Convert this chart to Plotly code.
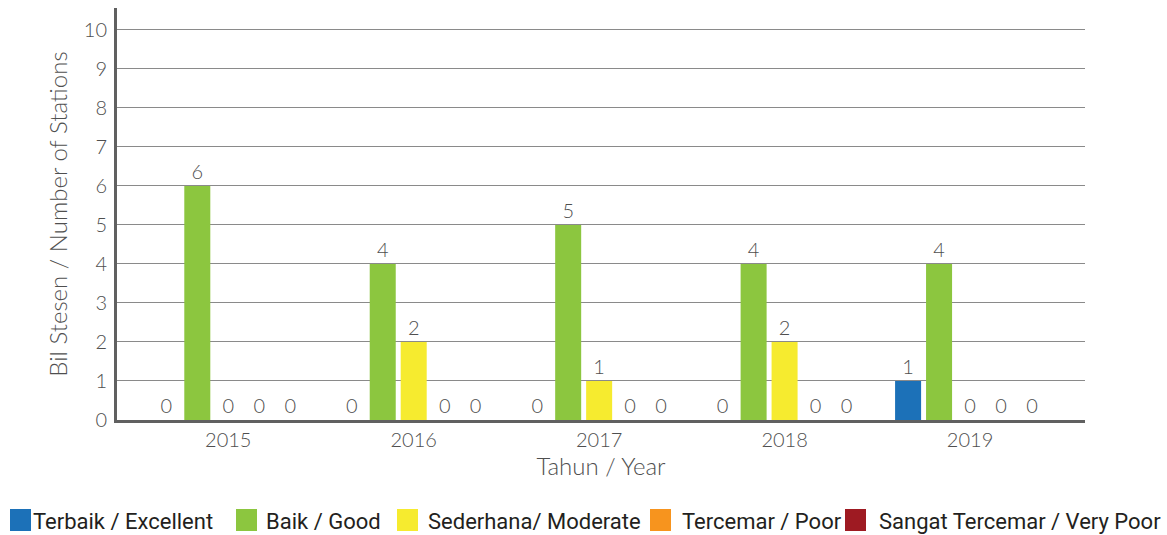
import plotly.graph_objects as go

# Water quality classes per year
years = ["2015", "2016", "2017", "2018", "2019"]
classes = ["Terbaik / Excellent", "Baik / Good", "Sederhana/ Moderate",
           "Tercemar / Poor", "Sangat Tercemar / Very Poor"]
colors = ["#1c71b8", "#8cc63f", "#f6eb2f", "#f7941e", "#9e1a22"]

excellent = [0, 0, 0, 0, 1]
good = [6, 4, 5, 4, 4]
moderate = [0, 2, 1, 2, 0]
poor = [0, 0, 0, 0, 0]
very_poor = [0, 0, 0, 0, 0]
series = [excellent, good, moderate, poor, very_poor]

W, H = 1167, 535
ML, MR, MT, MB = 117, 82, 8, 115
PW, PH = W - ML - MR, H - MT - MB

GRAY = "#4f4f4f"
AXIS_FONT = dict(family="Lato", size=20, color=GRAY, weight=300)
TITLE_FONT = dict(family="Lato", size=24, color=GRAY, weight=300)

fig = go.Figure()
for name, vals, col in zip(classes, series, colors):
    fig.add_trace(go.Bar(
        x=years, y=vals, name=name, marker_color=col, marker_line_width=0,
        text=vals, textposition="outside", cliponaxis=False,
        textfont=AXIS_FONT, showlegend=False,
    ))


def px_x(px):
    return (px - ML) / PW


def px_y(py):
    return (H - MB - py) / PH


# Legend drawn as swatches + labels below the axis title
swatch_left = [10, 236, 397, 650, 845]
label_left = [31, 264, 426, 680, 877]
shapes = []
annotations = []
for name, col, sx, tx in zip(classes, colors, swatch_left, label_left):
    shapes.append(dict(type="rect", xref="paper", yref="paper",
                       x0=px_x(sx), x1=px_x(sx + 21), y0=px_y(531), y1=px_y(509),
                       fillcolor=col, line_width=0))
    annotations.append(dict(xref="paper", yref="paper", x=px_x(tx), y=px_y(521),
                            text=name, showarrow=False, xanchor="left",
                            yanchor="middle",
                            font=dict(family="Roboto", size=22, color="#231f20")))

fig.update_layout(
    width=W, height=H,
    margin=dict(l=ML, r=MR, t=MT, b=MB, autoexpand=False),
    paper_bgcolor="white", plot_bgcolor="white",
    barmode="group", bargap=0.165, bargroupgap=0.16,
    shapes=shapes, annotations=annotations,
    xaxis=dict(
        type="category", range=[-0.6, 4.62],
        showline=True, linecolor="#606060", linewidth=3,
        showgrid=False, ticks="", tickfont=AXIS_FONT,
        title=dict(text="Tahun / Year", font=TITLE_FONT, standoff=2),
    ),
    yaxis=dict(
        range=[0, 10.56], tickvals=list(range(11)),
        showline=True, linecolor="#606060", linewidth=3,
        showgrid=True, gridcolor="#8a8a8a", gridwidth=1, zeroline=False,
        ticks="", ticklabelstandoff=3, tickfont=AXIS_FONT,
        title=dict(text="Bil Stesen / Number of Stations",
                   font=TITLE_FONT, standoff=10),
    ),
    showlegend=False,
)

fig.write_html("out.html")
